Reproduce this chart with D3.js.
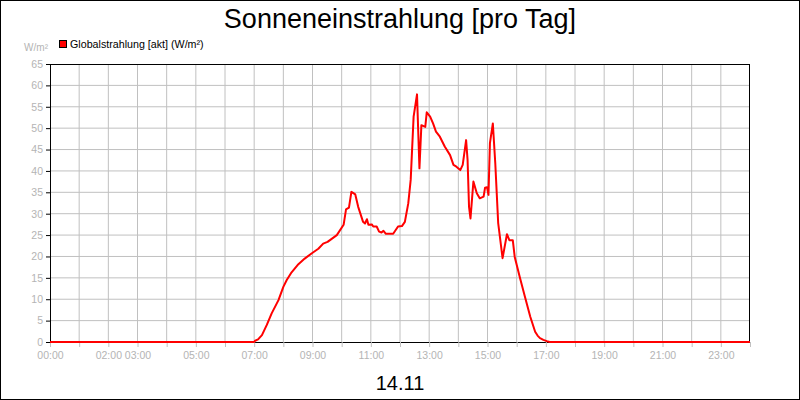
<!DOCTYPE html>
<html>
<head>
<meta charset="utf-8">
<script src="https://cdn.jsdelivr.net/npm/d3@7"></script>
<style>
  body { margin: 0; background: #fff; }
  svg { display: block; font-family: "Liberation Sans", Arial, sans-serif; }
</style>
</head>
<body>
<div id="chart-area"></div>
<script>
// measured times (HH:MM) and Globalstrahlung values (W/m²)
let times = ["00:00","07:00","07:02","07:08","07:16","07:26","07:36","07:50","08:00","08:07",
  "08:17","08:31","08:44","08:58","09:12","09:22","09:31",
  "09:50","10:04","10:09","10:15","10:20","10:28","10:34","10:44","10:48","10:52",
  "10:55","11:02","11:05","11:12","11:17","11:22","11:26","11:31","11:46","11:56",
  "12:04","12:10","12:17","12:22","12:28","12:35","12:40","12:44","12:52","12:55",
  "13:02","13:08","13:14","13:22","13:32","13:43","13:50","13:56","14:04","14:09",
  "14:16","14:19","14:22","14:25","14:31","14:38","14:44","14:52","14:55","14:59",
  "15:02","15:05","15:11","15:16","15:22","15:31","15:40","15:45","15:52","15:56",
  "16:07","16:17","16:28","16:38","16:43","16:48","16:55","17:02","17:08","24:00"];
let values = [0,0,0.3,0.6,1.6,4.0,6.7,9.8,12.9,14.5,
  16.3,18.2,19.5,20.7,21.8,23.0,23.4,
  25.0,27.4,31.0,31.4,35.1,34.5,31.6,28.1,27.7,28.7,
  27.4,27.5,27.0,27.0,25.8,25.6,26.0,25.3,25.3,27.0,
  27.1,28.1,32.4,37.9,52.7,57.9,40.6,50.7,50.3,53.7,
  52.7,51.1,49.2,48.0,45.7,43.7,41.4,41.0,40.2,41.4,
  47.2,42.6,31.6,28.9,37.5,34.8,33.6,34.0,36.1,36.2,
  34.4,46.5,51.1,41.8,27.8,19.6,25.2,23.8,23.8,19.9,
  14.9,10.6,5.9,2.4,1.5,0.9,0.5,0.2,0,0];
let xTickLabels = ["00:00","02:00","03:00","05:00","07:00","09:00","11:00","13:00","15:00","17:00","19:00","21:00","23:00"];
let yTicks = [0,5,10,15,20,25,30,35,40,45,50,55,60,65];

let title = "Sonneneinstrahlung [pro Tag]",
    dayLabel = "14.11",
    seriesName = "Globalstrahlung [akt] (W/m²)",
    unitLabel = "W/m²";

function toHours(t) {
    let p = t.split(":");
    return +p[0] + (+p[1]) / 60;
}

let data = times.map((t, i) => ({ h: toHours(t), v: values[i] }));

let W = 800, H = 400;
let margin = {top: 64, right: 50, bottom: 58, left: 50},
    width = W - margin.left - margin.right,
    height = H - margin.top - margin.bottom;

let svg = d3.select("#chart-area").append("svg")
    .attr("width", W)
    .attr("height", H);

// outer frame
svg.append("rect")
    .attr("x", 0.5).attr("y", 0.5)
    .attr("width", W - 1).attr("height", H - 1)
    .attr("fill", "#fff").attr("stroke", "#000");

svg.append("text")
    .attr("x", W / 2).attr("y", 28)
    .attr("text-anchor", "middle")
    .attr("font-size", 27)
    .text(title);

svg.append("text")
    .attr("x", W / 2).attr("y", 390)
    .attr("text-anchor", "middle")
    .attr("font-size", 20)
    .text(dayLabel);

// legend
svg.append("rect")
    .attr("x", 59.5).attr("y", 40.5)
    .attr("width", 7).attr("height", 7)
    .attr("fill", "#ff0000").attr("stroke", "#000");
svg.append("text")
    .attr("x", 70).attr("y", 48)
    .attr("font-size", 10.7)
    .text(seriesName);
svg.append("text")
    .attr("x", 48).attr("y", 51)
    .attr("text-anchor", "end")
    .attr("font-size", 10)
    .attr("fill", "#b4b4b4")
    .text(unitLabel);

let g = svg.append("g")
    .attr("transform", "translate(" + margin.left + "," + margin.top + ")");

let x = d3.scaleLinear().domain([0, 24]).range([0, width]);
let y = d3.scaleLinear().domain([0, 65]).range([height, 0]);

// grid
g.append("g").selectAll("line.vgrid")
    .data(d3.range(1, 24))
    .enter().append("line")
    .attr("x1", d => x(d)).attr("x2", d => x(d))
    .attr("y1", 0).attr("y2", height)
    .attr("stroke", "#c0c0c0");
g.append("g").selectAll("line.hgrid")
    .data(yTicks.filter(d => d > 0 && d < 65))
    .enter().append("line")
    .attr("x1", 0).attr("x2", width)
    .attr("y1", d => y(d)).attr("y2", d => y(d))
    .attr("stroke", "#c0c0c0");

// x axis: tick every hour, labels only where given
let xAxis = d3.axisBottom(x)
    .tickValues(d3.range(0, 25))
    .tickSize(5)
    .tickFormat(d => {
        let s = String(d).padStart(2, "0") + ":00";
        return xTickLabels.includes(s) ? s : "";
    });
let xAxisGroup = g.append("g")
    .attr("transform", "translate(0," + height + ")")
    .call(xAxis);
xAxisGroup.select(".domain").attr("stroke", "#000");
xAxisGroup.selectAll(".tick line").attr("stroke", "#c0c0c0");
xAxisGroup.selectAll(".tick text")
    .attr("fill", "#b4b4b4")
    .attr("font-size", 10.5)
    .attr("font-family", "Liberation Sans, Arial, sans-serif")
    .attr("dy", "0.9em");

let yAxis = d3.axisLeft(y)
    .tickValues(yTicks)
    .tickSize(4)
    .tickPadding(3);
let yAxisGroup = g.append("g").call(yAxis);
yAxisGroup.select(".domain").attr("stroke", "#000");
yAxisGroup.selectAll(".tick line").attr("stroke", "#000");
yAxisGroup.selectAll(".tick text")
    .attr("fill", "#b4b4b4")
    .attr("font-size", 10.5)
    .attr("font-family", "Liberation Sans, Arial, sans-serif");

// top and right border
g.append("line").attr("x1", 0).attr("x2", width).attr("y1", 0.5).attr("y2", 0.5).attr("stroke", "#000");
g.append("line").attr("x1", width - 0.5).attr("x2", width - 0.5).attr("y1", 0).attr("y2", height).attr("stroke", "#000");

let line = d3.line()
    .x(d => x(d.h))
    .y(d => y(d.v));

g.append("path")
    .datum(data)
    .attr("fill", "none")
    .attr("stroke", "#ff0000")
    .attr("stroke-width", 2)
    .attr("stroke-linejoin", "round")
    .attr("d", line);
</script>
</body>
</html>
